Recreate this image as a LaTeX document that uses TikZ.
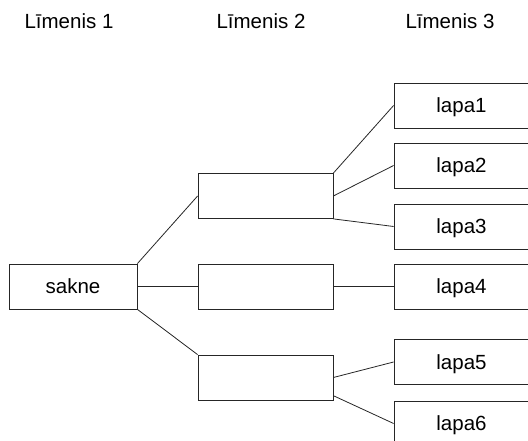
\documentclass[tikz,border=0pt]{standalone}
\usepackage{fontspec}
\setmainfont{Liberation Sans}
\usetikzlibrary{positioning}

\begin{document}
\begin{tikzpicture}[
    x=1pt, y=1pt,
    font=\fontsize{20.5}{24}\selectfont,
    box/.style={draw=black!85, line width=0.8pt, minimum width=135pt,
                minimum height=45pt, inner sep=0pt, text depth=0pt},
    lvl/.style={anchor=base, inner sep=0pt},
    link/.style={draw=black!85, line width=0.8pt},
]
% Canvas is 528 x 441; the leaf column runs off the right and bottom edge
\useasboundingbox (0,0) rectangle (528,441);
\clip (0,0) rectangle (528,441);
% Level headings
\node[lvl] (lvl1) at (69,412.7)  {Līmenis 1};
\node[lvl] (lvl2) at (261,412.7) {Līmenis 2};
\node[lvl] (lvl3) at (450,412.7) {Līmenis 3};
% Root and the empty middle level
\node[box, minimum width=128pt] (sakne) at (73,154.5) {sakne};
\node[box] (midA) at (265.5,245)   {};
\node[box] (midB) at (265.5,154.5) {};
\node[box] (midC) at (265.5,63.5)  {};
% Leaves
\node[box] (lapa1) at (461.5,335.5) {lapa1};
\node[box] (lapa2) at (461.5,275.5) {lapa2};
\node[box] (lapa3) at (461.5,214.5) {lapa3};
\node[box] (lapa4) at (461.5,154.5) {lapa4};
\node[box] (lapa5) at (461.5,79)    {lapa5};
\node[box] (lapa6) at (461.5,17.5)  {lapa6};

% Root to level 2
\draw[link] (sakne.north east) -- (midA.west);
\draw[link] (sakne.east)       -- (midB.west);
\draw[link] (sakne.south east) -- (midC.north west);
% Level 2 to leaves
\draw[link] (midA.north east) -- (lapa1.west);
\draw[link] (midA.east)       -- (lapa2.west);
\draw[link] (midA.south east) -- (lapa3.west);
\draw[link] (midB.east)       -- (lapa4.west);
\draw[link] (midC.east)       -- (lapa5.west);
\draw[link] (midC.-15)        -- (lapa6.west);
\end{tikzpicture}
\end{document}
